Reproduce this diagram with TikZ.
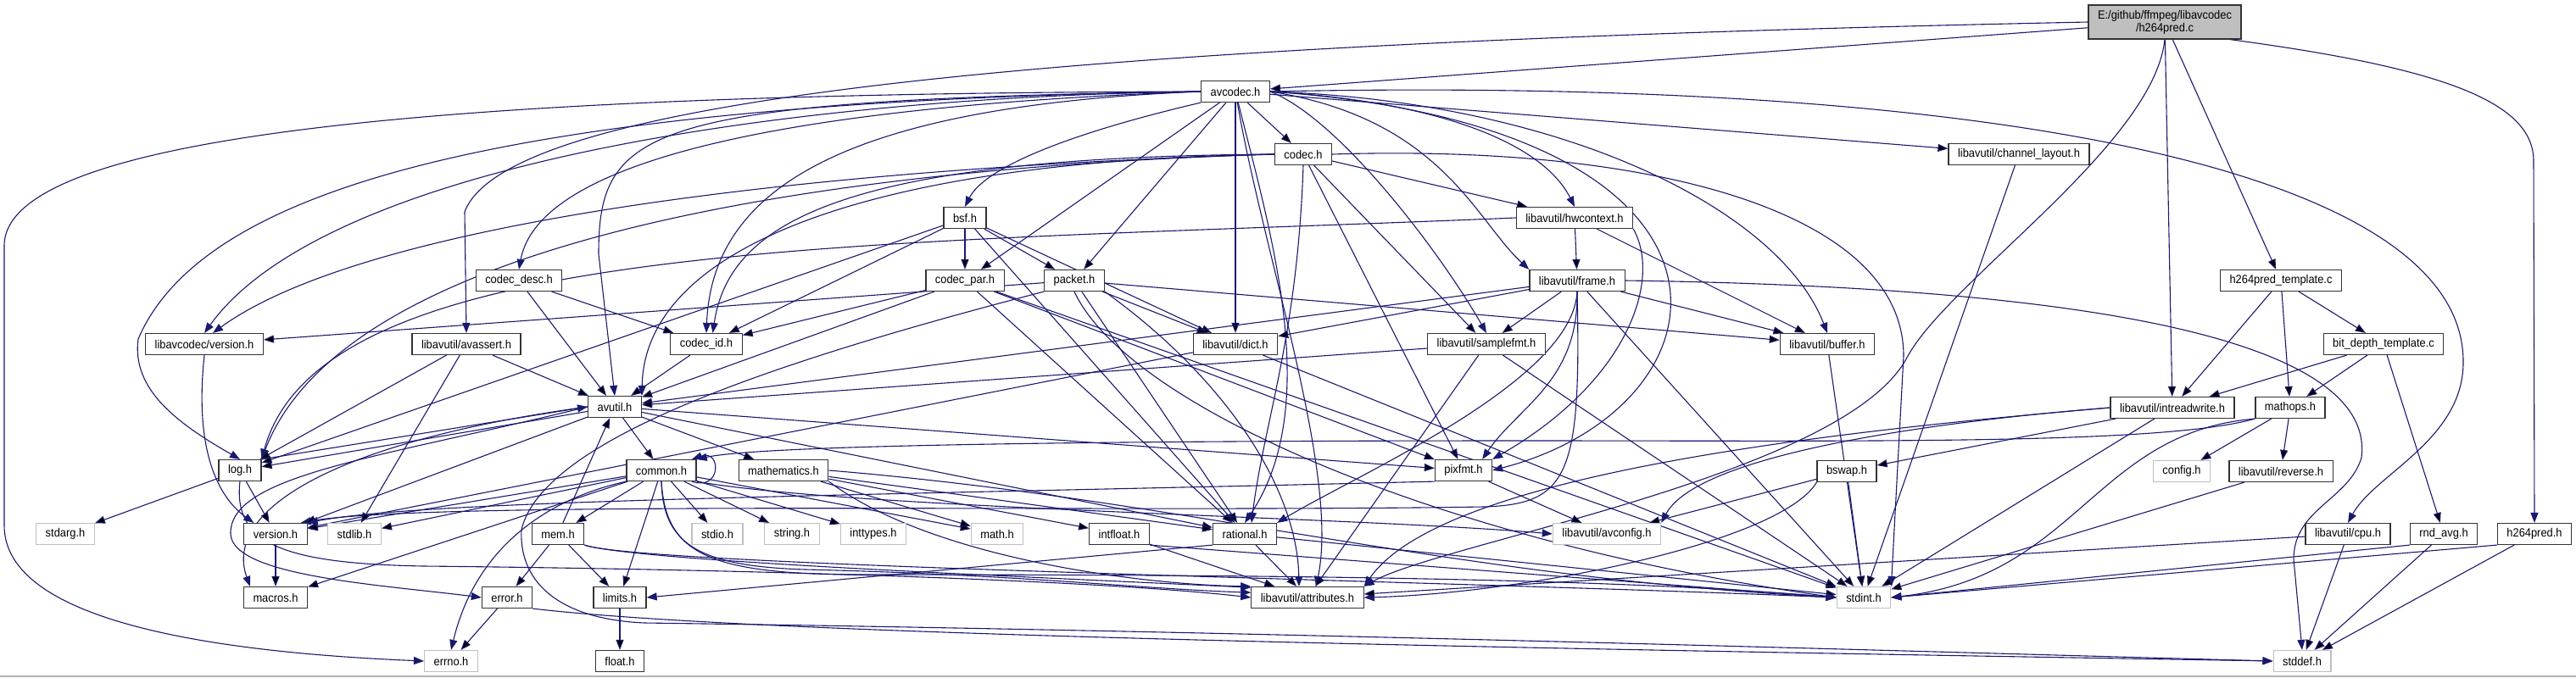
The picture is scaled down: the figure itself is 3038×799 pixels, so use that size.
\documentclass[tikz,border=0pt]{standalone}
\usepackage{fontspec}
\setmainfont{Liberation Sans}[FakeStretch=0.92]
\usepackage{tikz}
\usetikzlibrary{arrows.meta,backgrounds}
\definecolor{edgeblue}{RGB}{25,25,112}
\begin{document}
\begin{tikzpicture}[x=0.5pt, y=0.5pt, font=\fontsize{7pt}{7.5pt}\selectfont,
  file/.style={draw=black!80, fill=white, line width=0.6pt, inner xsep=5.5pt, inner ysep=0pt, minimum height=12.5pt},
  sysfile/.style={file, draw=black!25},
  mainfile/.style={file, fill=black!25, align=center, minimum height=20pt},
  inc/.style={draw=edgeblue, line width=0.55pt, -{Triangle[length=6pt,width=4.5pt]}}]
\useasboundingbox (0,0) rectangle (3038,-799);
\draw[black!30, line width=1pt] (0,-798) -- (3038,-798);

\node[mainfile] (main) at (2553,-26) {E:/github/ffmpeg/libavcodec\\/h264pred.c};
\node[file] (avcodec) at (1457,-108) {avcodec.h};
\node[file] (codec) at (1537,-182) {codec.h};
\node[file] (chlayout) at (2381,-182) {libavutil/channel\_layout.h};
\node[file] (bsf) at (1138,-257) {bsf.h};
\node[file] (hwctx) at (1857,-257) {libavutil/hwcontext.h};
\node[file] (codecdesc) at (612,-331) {codec\_desc.h};
\node[file] (codecpar) at (1138,-331) {codec\_par.h};
\node[file] (packet) at (1267,-331) {packet.h};
\node[file] (frame) at (1860,-331) {libavutil/frame.h};
\node[file] (tmpl) at (2690,-331) {h264pred\_template.c};
\node[file] (lavcver) at (241,-406) {libavcodec/version.h};
\node[file] (avassert) at (550,-406) {libavutil/avassert.h};
\node[file] (codecid) at (833,-406) {codec\_id.h};
\node[file] (dict) at (1457,-406) {libavutil/dict.h};
\node[file] (samplefmt) at (1753,-406) {libavutil/samplefmt.h};
\node[file] (buffer) at (2155,-406) {libavutil/buffer.h};
\node[file] (bitdepth) at (2811,-406) {bit\_depth\_template.c};
\node[file] (avutil) at (725,-480) {avutil.h};
\node[file] (intrw) at (2562,-481) {libavutil/intreadwrite.h};
\node[file] (mathops) at (2701,-481) {mathops.h};
\node[file] (log) at (283,-555) {log.h};
\node[file] (common) at (780,-555) {common.h};
\node[file] (mathem) at (924,-555) {mathematics.h};
\node[file] (pixfmt) at (1726,-555) {pixfmt.h};
\node[file] (bswap) at (2178,-556) {bswap.h};
\node[sysfile] (config) at (2573,-556) {config.h};
\node[file] (reverse) at (2690,-556) {libavutil/reverse.h};
\node[sysfile] (stdarg) at (77,-630) {stdarg.h};
\node[file] (version) at (325,-630) {version.h};
\node[sysfile] (stdlib) at (418,-630) {stdlib.h};
\node[file] (mem) at (658,-630) {mem.h};
\node[sysfile] (stdio) at (846,-630) {stdio.h};
\node[sysfile] (string) at (934,-630) {string.h};
\node[sysfile] (inttypes) at (1030,-630) {inttypes.h};
\node[sysfile] (math) at (1176,-630) {math.h};
\node[file] (intfloat) at (1320,-630) {intfloat.h};
\node[file] (rational) at (1468,-630) {rational.h};
\node[sysfile] (avconfig) at (1895,-630) {libavutil/avconfig.h};
\node[file] (cpu) at (2769,-630) {libavutil/cpu.h};
\node[file] (rndavg) at (2882,-630) {rnd\_avg.h};
\node[file] (hpredh) at (2989,-630) {h264pred.h};
\node[file] (macros) at (325,-705) {macros.h};
\node[file] (error) at (598,-705) {error.h};
\node[file] (limits) at (731,-705) {limits.h};
\node[file] (attributes) at (1542,-705) {libavutil/attributes.h};
\node[sysfile] (stdint) at (2198,-705) {stdint.h};
\node[sysfile] (errno) at (532,-780) {errno.h};
\node[file] (float) at (731,-780) {float.h};
\node[sysfile] (stddef) at (2715,-780) {stddef.h};

\begin{scope}[on background layer]
\path[inc] (main) edge (avcodec) edge (intrw) edge (tmpl);
\draw[inc] (main.south) .. controls (2540,-170) and (2300,-330) .. (2250,-420) .. controls (2180,-560) and (1700,-640) .. (attributes.north east);
\draw[inc] (main.west) .. controls (1300,-50) and (600,-110) .. (548,-250) -- (avassert.north);
\draw[inc] (main.-15) .. controls (2880,-80) and (2988,-120) .. (2988,-190) -- (hpredh.north);

\path[inc] (avcodec) edge (codec) edge (dict) edge (codecpar) edge (packet) edge (chlayout);
\draw[inc] (avcodec.west) .. controls (600,-110) and (5,-150) .. (5,-290) -- (5,-620) .. controls (5,-735) and (260,-770) .. (errno.west);
\draw[inc] (avcodec.west) .. controls (900,-115) and (380,-200) .. (lavcver.north);
\draw[inc] (avcodec.west) .. controls (600,-120) and (240,-220) .. (163,-400) .. controls (155,-460) and (210,-500) .. (log.north);
\draw[inc] (avcodec.west) .. controls (760,-118) and (706,-150) .. (706,-300) -- (avutil.north);
\draw[inc] (avcodec.west) .. controls (800,-130) and (630,-220) .. (codecdesc.north);
\draw[inc] (avcodec.west) .. controls (1000,-125) and (840,-220) .. (codecid.north);
\draw[inc] (avcodec.south west) .. controls (1250,-160) and (1160,-200) .. (bsf.north);
\draw[inc] (avcodec.east) .. controls (1580,-140) and (1700,-300) .. (samplefmt.north);
\draw[inc] (avcodec.east) .. controls (1700,-140) and (1740,-260) .. (frame.north west);
\draw[inc] (avcodec.east) .. controls (1700,-120) and (1820,-170) .. (hwctx.north);
\draw[inc] (avcodec.east) .. controls (1850,-120) and (2100,-250) .. (buffer.north);
\draw[inc] (avcodec.east) .. controls (2350,-90) and (2910,-200) .. (2905,-430) .. controls (2903,-520) and (2800,-560) .. (cpu.north);
\draw[inc] (avcodec.east) .. controls (2100,-150) and (2050,-480) .. (pixfmt.east);
\draw[inc] (avcodec) .. controls (1500,-280) and (1560,-480) .. (rational.north);
\draw[inc] (avcodec) .. controls (1490,-300) and (1580,-560) .. ([xshift=5pt]attributes.north);

\path[inc] (codec) edge (hwctx) edge (pixfmt) edge (samplefmt);
\draw[inc] (codec.east) .. controls (1950,-170) and (2245,-250) .. (2245,-420) -- (stdint.north east);
\draw[inc] (codec.west) .. controls (1000,-190) and (760,-300) .. (avutil.north east);
\draw[inc] (codec.west) .. controls (900,-200) and (400,-300) .. (log.north east);
\draw[inc] (codec.south) .. controls (1530,-400) and (1490,-500) .. ([xshift=4pt]rational.north);
\draw[inc] (codec.west) .. controls (1000,-185) and (860,-260) .. (codecid.60);
\draw[inc] (codec.west) .. controls (900,-200) and (420,-270) .. ([xshift=5pt]lavcver.north);

\path[inc] (bsf) edge (dict) edge (log) edge (rational) edge (codecid) edge (codecpar) edge (packet);
\path[inc] (codecdesc) edge (avutil) edge (codecid);
\path[inc] (codecpar) edge (avutil) edge (rational) edge (pixfmt) edge (codecid) edge (stdint);

\path[inc] (packet) edge (lavcver) edge (rational) edge (dict) edge (buffer);
\draw[inc] (packet.south) .. controls (1330,-480) and (1700,-640) .. (stdint.west);
\draw[inc] (packet.south east) .. controls (1450,-450) and (1530,-580) .. ([xshift=-5pt]attributes.north);
\draw[inc] (packet.south west) .. controls (900,-430) and (640,-520) .. (615,-625) .. controls (612,-680) and (650,-730) .. (760,-735) .. controls (1500,-745) and (2300,-770) .. (stddef.west);

\path[inc] (codecid) edge (avutil);

\path[inc] (frame) edge (stdint) edge (avutil) edge (buffer) edge (dict) edge (samplefmt);
\draw[inc] (frame.south) .. controls (1855,-450) and (1600,-560) .. (rational.north east);
\draw[inc] (frame.south) .. controls (1862,-450) and (1790,-480) .. ([xshift=-6pt]pixfmt.north east);
\draw[inc] (frame.south) .. controls (1865,-560) and (1850,-595) .. (1750,-598) .. controls (1300,-605) and (500,-590) .. ([xshift=-4pt]version.north east);
\draw[inc] (frame.east) .. controls (2550,-340) and (2800,-420) .. (2785,-540) .. controls (2770,-590) and (2705,-600) .. (2705,-660) -- (stddef.north);

\path[inc] (hwctx) edge (buffer) edge (frame);
\draw[inc] (hwctx.west) .. controls (1000,-290) and (380,-280) .. (log.north east);
\draw[inc] (hwctx.south east) .. controls (1960,-330) and (1920,-450) .. (pixfmt.north east);

\path[inc] (dict) edge (stdint) edge (version);
\path[inc] (samplefmt) edge (stdint) edge (avutil) edge (attributes);
\path[inc] (buffer) edge (stdint);
\path[inc] (chlayout) edge (stdint);
\path[inc] (avassert) edge (stdlib) edge (avutil) edge (log);

\path[inc] (avutil) edge (common) edge (mathem) edge (rational) edge (pixfmt) edge (log) edge (version);
\draw[inc] (avutil.west) .. controls (450,-540) and (270,-560) .. (272,-630) .. controls (274,-680) and (450,-690) .. (error.west);
\draw[inc] (avutil.west) .. controls (400,-520) and (262,-600) .. ([xshift=4pt]macros.north west);

\path[inc] (log) edge (stdarg) edge (version);
\draw[inc] (log.north east) -- (avutil.west);
\draw[inc] (log.south) .. controls (275,-640) and (330,-665) .. (500,-668) .. controls (900,-672) and (1300,-685) .. (attributes.west);
\draw[inc] (lavcver.south) .. controls (228,-540) and (262,-590) .. ([xshift=6pt]version.north west);

\path[inc] (common) edge (inttypes) edge (stdio) edge (string) edge (math) edge (limits) edge (stdlib) edge (macros) edge (version) edge (mem);
\draw[inc] (common.south west) .. controls (640,-590) and (560,-650) .. (errno.north);
\draw[inc] (common.south) .. controls (782,-640) and (820,-668) .. (950,-672) .. controls (1200,-678) and (1350,-695) .. (attributes.175);
\draw[inc] (common.south) .. controls (785,-650) and (830,-676) .. (1000,-678) .. controls (1500,-678) and (1900,-682) .. (stdint.west);
\draw[inc] (common.south east) .. controls (1000,-600) and (1600,-610) .. (avconfig.west);
\draw[inc] (common.-20) .. controls +(35,-12) and +(35,12) .. (common.20);

\path[inc] (mem) edge (limits) edge (error) edge (avutil);
\draw[inc] (mem.south east) .. controls (750,-662) and (1200,-680) .. (attributes.170);
\draw[inc] (mem.south east) .. controls (760,-668) and (1700,-685) .. (stdint.west);

\path[inc] (mathem) edge (math) edge (intfloat) edge (rational);
\draw[inc] (mathem.east) .. controls (1400,-590) and (1700,-680) .. (stdint.west);
\draw[inc] (mathem.south east) .. controls (1100,-660) and (1350,-690) .. (attributes.north west);

\path[inc] (version) edge (macros);
\path[inc] (error) edge (errno);
\draw[inc] (error.south east) .. controls (900,-750) and (1800,-765) .. (stddef.west);
\path[inc] (limits) edge (float);
\path[inc] (rational) edge (stdint) edge (attributes);
\draw[inc] (rational.south west) -- (limits.east);
\path[inc] (intfloat) edge (attributes);
\draw[inc] (intfloat.south east) -- (stdint.west);
\path[inc] (pixfmt) edge (avconfig);
\draw[inc] (pixfmt.south west) .. controls (1000,-585) and (500,-590) .. (version.north east);

\path[inc] (intrw) edge (stdint) edge (bswap);
\draw[inc] (intrw.west) .. controls (2250,-500) and (2000,-540) .. (avconfig.north east);
\draw[inc] (intrw.west) .. controls (2150,-510) and (1700,-560) .. (attributes.north east);
\path[inc] (bswap) edge (stdint) edge (avconfig);
\draw[inc] (bswap.south west) .. controls (2100,-640) and (1800,-700) .. (attributes.east);

\path[inc] (mathops) edge (config) edge (reverse);
\draw[inc] (mathops.south west) .. controls (2470,-510) and (2450,-680) .. (stdint.east);
\draw[inc] (mathops.south west) .. controls (2550,-525) and (2200,-520) .. (1800,-520) .. controls (1300,-520) and (900,-525) .. (common.north east);

\path[inc] (reverse) edge (stdint);
\path[inc] (cpu) edge (stddef) edge (attributes);
\path[inc] (rndavg) edge (stddef);
\draw[inc] (rndavg.south west) -- (stdint.east);
\path[inc] (hpredh) edge (stddef);
\draw[inc] (hpredh.south west) -- (stdint.east);
\path[inc] (tmpl) edge (intrw) edge (mathops) edge (bitdepth);
\path[inc] (bitdepth) edge (intrw) edge (mathops) edge (rndavg);
\end{scope}
\end{tikzpicture}
\end{document}
